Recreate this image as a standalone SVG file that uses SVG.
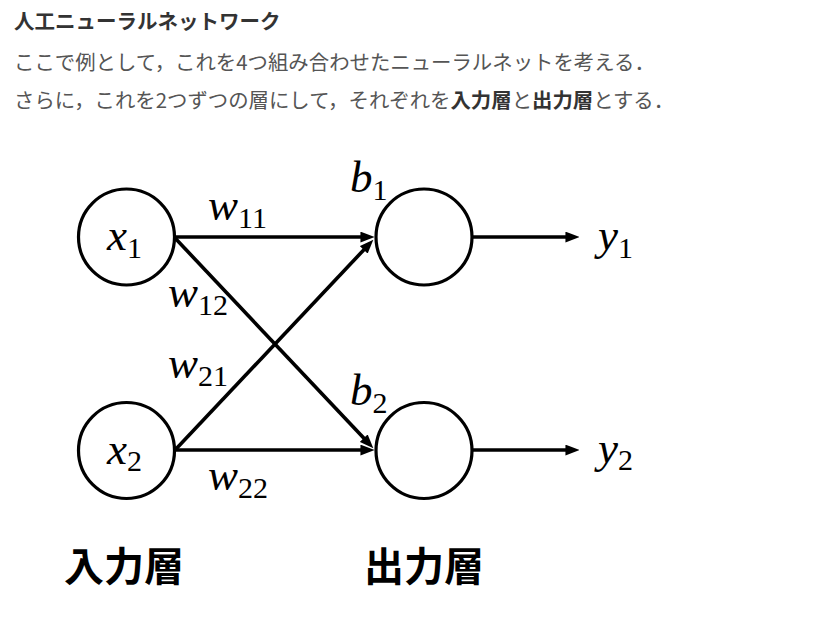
<svg xmlns="http://www.w3.org/2000/svg" width="837" height="619" viewBox="0 0 837 619">
<style>
  .hdr { font-family: "Noto Sans CJK JP", "Noto Sans", sans-serif; }
  .title { font-size: 20.5px; font-weight: bold; fill: #333; }
  .body { font-size: 20.4px; fill: #555; }
  .b { font-weight: bold; fill: #333; }
  .node { fill: #fff; stroke: #000; stroke-width: 3.2; }
  .edge { stroke: #000; stroke-width: 3.6; fill: none; marker-end: url(#arr); }
  .math { font-family: "Liberation Serif", "Times New Roman", serif; font-style: italic; font-size: 45px; fill: #000; }
  .sub { font-style: normal; font-size: 30px; }
  .layer { font-family: "Noto Sans CJK JP", sans-serif; font-size: 40px; font-weight: bold; fill: #000; }
</style>
<defs>
  <marker id="arr" markerUnits="userSpaceOnUse" markerWidth="14" markerHeight="11" viewBox="0 0 13 10" refX="7" refY="5" orient="auto">
    <path d="M0,0 L13,5 L0,10 z" fill="#000"/>
  </marker>
</defs>
<rect width="837" height="619" fill="#fff"/>

<g id="header" class="hdr">
  <text class="title" x="14" y="29">人工ニューラルネットワーク</text>
  <text class="body" x="14" y="70">ここで例として，これを4つ組み合わせたニューラルネットを考える．</text>
  <text class="body" x="14" y="108">さらに，これを2つずつの層にして，それぞれを<tspan class="b">入力層</tspan>と<tspan class="b">出力層</tspan>とする．</text>
</g>

<g id="connectors">
  <line class="edge" x1="176" y1="237" x2="368" y2="237"/>
  <line class="edge" x1="175" y1="238" x2="368.9" y2="443.6"/>
  <line class="edge" x1="176" y1="449" x2="368.9" y2="244.4"/>
  <line class="edge" x1="176" y1="450" x2="368" y2="450"/>
  <line class="edge" x1="473" y1="237" x2="573" y2="237"/>
  <line class="edge" x1="473" y1="450" x2="573" y2="450"/>
  <text class="math" x="208" y="220">w<tspan class="sub" dy="8">11</tspan></text>
  <text class="math" x="168" y="307">w<tspan class="sub" dy="8">12</tspan></text>
  <text class="math" x="168" y="378">w<tspan class="sub" dy="8">21</tspan></text>
  <text class="math" x="208" y="490">w<tspan class="sub" dy="8">22</tspan></text>
</g>

<g id="node-x1">
  <circle class="node" cx="126.5" cy="237" r="48"/>
  <text class="math" x="107" y="250">x<tspan class="sub" dy="8">1</tspan></text>
</g>
<g id="node-x2">
  <circle class="node" cx="126.5" cy="450.5" r="48"/>
  <text class="math" x="107" y="464">x<tspan class="sub" dy="7">2</tspan></text>
</g>
<g id="node-o1">
  <circle class="node" cx="424" cy="237" r="48"/>
  <text class="math" x="350" y="192">b<tspan class="sub" dy="8">1</tspan></text>
</g>
<g id="node-o2">
  <circle class="node" cx="424" cy="450.5" r="48"/>
  <text class="math" x="350" y="405">b<tspan class="sub" dy="8">2</tspan></text>
</g>
<g id="outputs">
  <text class="math" x="598" y="250">y<tspan class="sub" dy="8">1</tspan></text>
  <text class="math" x="598" y="463">y<tspan class="sub" dy="7">2</tspan></text>
</g>

<g id="layers">
  <text class="layer" x="64" y="581">入力層</text>
  <text class="layer" x="364" y="581">出力層</text>
</g>
</svg>
